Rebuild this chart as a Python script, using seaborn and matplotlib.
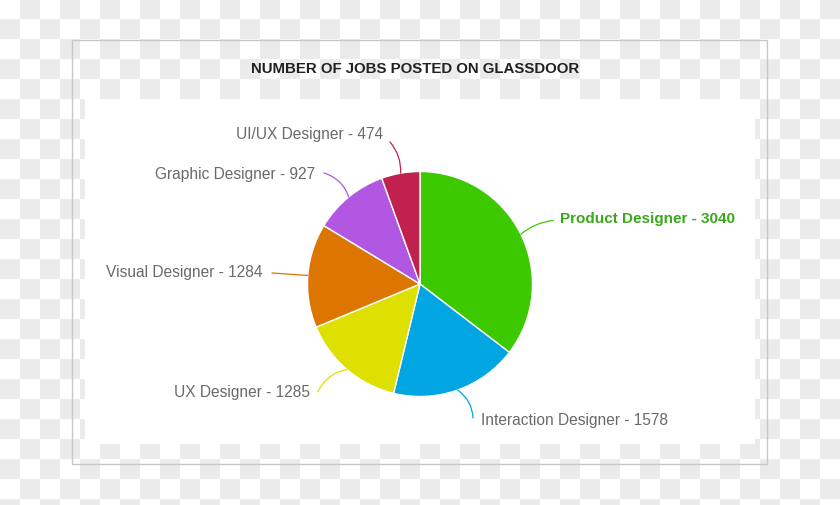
import numpy as np
import matplotlib
matplotlib.use("Agg")
import matplotlib.pyplot as plt
import seaborn as sns
from matplotlib.patches import Rectangle

# data, clockwise from 12 o'clock
jobs = ["Product Designer", "Interaction Designer", "UX Designer",
        "Visual Designer", "Graphic Designer", "UI/UX Designer"]
counts = [3040, 1578, 1285, 1284, 927, 474]
colors = ["#3cc900", "#00a5e1", "#dde000", "#dd7600", "#b157e1", "#c0214f"]
title = "NUMBER OF JOBS POSTED ON GLASSDOOR"

sns.set_style("white")
plt.rcParams["font.family"] = ["Liberation Sans", "DejaVu Sans"]

W, H = 840, 506
fig = plt.figure(figsize=(W / 100, H / 100), dpi=100)
ax = fig.add_axes([0, 0, 1, 1])
ax.set_xlim(0, W)
ax.set_ylim(0, H)
ax.set_aspect("equal")
ax.axis("off")

# transparent-looking checker background
sq = 20
ny, nx = int(np.ceil(H / sq)), int(np.ceil(W / sq))
board = (np.add.outer(np.arange(ny), np.arange(nx)) % 2).astype(float)
ax.imshow(board, cmap=matplotlib.colors.ListedColormap(["#ffffff", "#ebebeb"]),
          extent=(0, nx * sq, H - ny * sq, H), origin="upper",
          interpolation="nearest", zorder=0)

# outer frame and inner white panel (pixel coords, y from top)
def fy(y):
    return H - y

ax.add_patch(Rectangle((72, fy(465)), 695, 424, fill=False,
                       edgecolor="#c8c8c8", lw=1, zorder=1))
ax.add_patch(Rectangle((85, fy(445)), 670, 345, facecolor="white",
                       edgecolor="none", zorder=1))

ax.text(415, fy(69), title, ha="center", va="center", fontsize=10.8,
        fontweight="bold", color="#222222", zorder=3)

cx, cy, r = 420, fy(285), 112.5
wedges, _ = ax.pie(counts, colors=colors, startangle=90, counterclock=False,
                   center=(cx, cy), radius=r, frame=True,
                   wedgeprops=dict(edgecolor="white", linewidth=1))
for w in wedges:
    w.set_zorder(2)
ax.set_xlim(0, W)
ax.set_ylim(0, H)
ax.axis("off")

# label layout: text anchor, leader end, alignment, curvature
layout = [
    ((560, 219), (553, 221.5), "left", 0.15),
    ((481, 421), (473, 419), "left", 0.25),
    ((310, 392), (318, 392.5), "right", -0.25),
    ((263, 273), (272, 274), "right", 0.0),
    ((315, 174), (324, 174), "right", -0.25),
    ((383, 135), (390, 143), "right", -0.2),
]

for w, job, n, col, (tpos, lend, ha, rad) in zip(wedges, jobs, counts, colors, layout):
    ang = np.deg2rad((w.theta1 + w.theta2) / 2)
    px, py = cx + r * np.cos(ang), cy + r * np.sin(ang)
    ax.annotate("", xy=(px, py), xytext=(lend[0], fy(lend[1])),
                arrowprops=dict(arrowstyle="-", color=col, lw=0.9,
                                shrinkA=0, shrinkB=0,
                                connectionstyle=f"arc3,rad={rad}"), zorder=3)
    first = job == jobs[0]
    ax.text(tpos[0], fy(tpos[1]), f"{job} - {n}", ha=ha, va="center",
            fontsize=11.0 if first else 11.2,
            color="#3aa81c" if first else "#6a6a6a",
            fontweight="bold" if first else "normal", zorder=3)

fig.savefig("out.png", dpi=100)
